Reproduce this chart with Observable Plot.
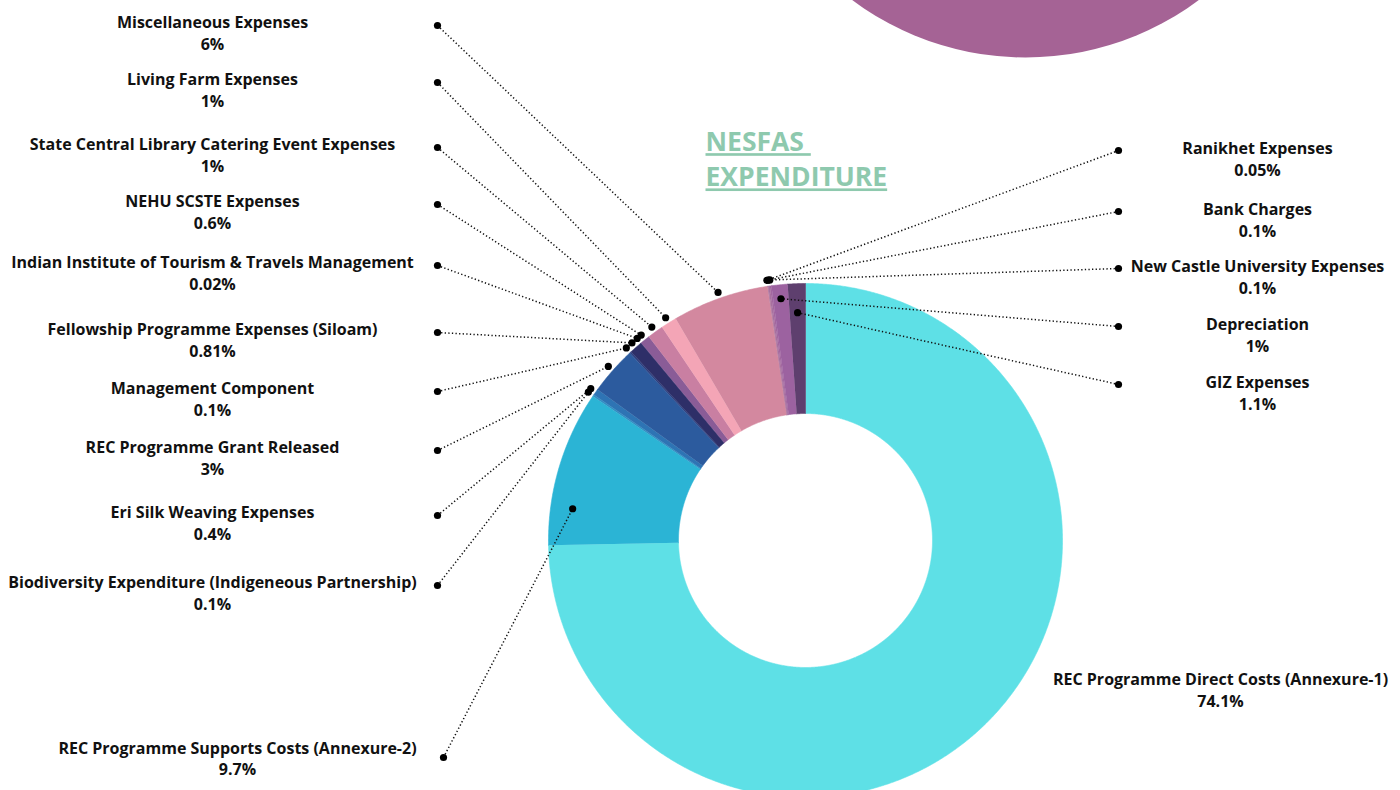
<!DOCTYPE html>
<html>
<head>
<meta charset="utf-8">
<script src="https://cdn.jsdelivr.net/npm/d3@7"></script>
<script src="https://cdn.jsdelivr.net/npm/@observablehq/plot@0.6"></script>
<style>
  html, body { margin: 0; padding: 0; background: #fff; }
  #chart svg { display: block; }
</style>
</head>
<body>
<div id="chart"></div>
<script>
// ---------- DATA (slice order, clockwise from 12 o'clock) ----------
const categories = [
  "REC Programme Direct Costs (Annexure-1)",
  "REC Programme Supports Costs (Annexure-2)",
  "Biodiversity Expenditure (Indigeneous Partnership)",
  "Eri Silk Weaving Expenses",
  "REC Programme Grant Released",
  "Management Component",
  "Fellowship Programme Expenses (Siloam)",
  "Indian Institute of Tourism & Travels Management",
  "NEHU SCSTE Expenses",
  "State Central Library Catering Event Expenses",
  "Living Farm Expenses",
  "Miscellaneous Expenses",
  "Ranikhet Expenses",
  "Bank Charges",
  "New Castle University Expenses",
  "Depreciation",
  "GIZ Expenses"
];
const values = [74.1, 9.7, 0.1, 0.4, 3, 0.1, 0.81, 0.02, 0.6, 1, 1, 6, 0.05, 0.1, 0.1, 1, 1.1];
const sliceColors = [
  "#5ee0e6", "#2bb4d5", "#2f8fc4", "#2e74b4", "#2c5b9e", "#2c3f80",
  "#2e2f68", "#4a3a78", "#8a5c97", "#c97fa2", "#f4a5b6", "#d3889f",
  "#b07aa0", "#a8709f", "#a267a0", "#9c62a0", "#5e3f6e"
];
const titleLines = ["NESFAS\u00a0", "EXPENDITURE"];

// ---------- LAYOUT ----------
const W = 1400, H = 790;
const cx = 805, cy = 540, rOuter = 257, rInner = 127;
const labelSide = ["direct", "support", "left", "left", "left", "left", "left", "left", "left", "left", "left", "left",
                   "right", "right", "right", "right", "right"];
const leftRowsY = [21, 78, 143, 200, 261, 328, 387, 446, 511, 581];   // top to bottom (Misc ... Biodiversity)
const rightRowsY = [147, 208, 265, 323, 381];
const leftDotX = 437, rightDotX = 1118, leftTextX = 212, rightTextX = 1257;
const anchorR = {"GIZ Expenses": 228, "Depreciation": 243, "REC Programme Supports Costs (Annexure-2)": 235};
const anchorFrac = {"REC Programme Supports Costs (Annexure-2)": 0.25};

// ---------- BUILD ----------
const rows = categories.map((name, i) => ({name, value: values[i], pct: `${values[i]}%`}));
const arcs = d3.pie().sort(null).value(d => d.value).startAngle(0).endAngle(2 * Math.PI)(rows);
const pt = (a, r) => ({x: cx + r * Math.sin(a), y: cy - r * Math.cos(a)});

const poly = [];
arcs.forEach(a => {
  const n = Math.max(2, Math.ceil((a.endAngle - a.startAngle) / 0.005));
  for (let k = 0; k <= n; k++) {
    const t = a.startAngle + (a.endAngle - a.startAngle) * k / n;
    poly.push({name: a.data.name, ...pt(t, rOuter)});
  }
  for (let k = n; k >= 0; k--) {
    const t = a.startAngle + (a.endAngle - a.startAngle) * k / n;
    poly.push({name: a.data.name, ...pt(t, rInner)});
  }
});

const links = [], labels = [];
arcs.forEach((a, i) => {
  const d = a.data, side = labelSide[i];
  const frac = anchorFrac[d.name] ?? 0.5;
  const r = anchorR[d.name] ?? 263;
  const p = pt(a.startAngle + (a.endAngle - a.startAngle) * frac, r);
  const text = `${d.name}\n${d.pct}`;
  if (side === "direct") {
    labels.push({x: 1220, y: 678 + 10.8, text});
  } else if (side === "support") {
    labels.push({x: 237, y: 746 + 11, text});
    links.push({x1: 443, y1: 757, x2: p.x, y2: p.y});
  } else if (side === "left") {
    const row = 11 - i;
    const ly = leftRowsY[row];
    labels.push({x: leftTextX, y: ly + 10.8, text});
    links.push({x1: leftDotX, y1: ly + 4, x2: p.x, y2: p.y});
  } else {
    const row = i - 12;
    const ly = rightRowsY[row];
    labels.push({x: rightTextX, y: ly + 10.8, text});
    links.push({x1: rightDotX, y1: ly + 3, x2: p.x, y2: p.y});
  }
});
const dots = links.flatMap(l => [{x: l.x1, y: l.y1}, {x: l.x2, y: l.y2}]);

const chart = Plot.plot({
  width: W, height: H, margin: 0,
  style: {fontFamily: "'Open Sans', sans-serif", background: "#fff"},
  x: {domain: [0, W], range: [0, W], axis: null},
  y: {domain: [0, H], range: [0, H], axis: null},
  color: {type: "ordinal", domain: categories, range: sliceColors},
  marks: [
    Plot.dot([{x: 1025, y: -233}], {x: "x", y: "y", r: 290, fill: "#a56395", stroke: null}),
    Plot.line(poly, {x: "x", y: "y", z: "name", fill: "name", stroke: "name", strokeWidth: 0.6, curve: "linear"}),
    Plot.link(links, {x1: "x1", y1: "y1", x2: "x2", y2: "y2", stroke: "#111", strokeWidth: 1.5, strokeDasharray: "1.3,2.3"}),
    Plot.dot(dots, {x: "x", y: "y", r: 3.6, fill: "#000", stroke: null}),
    Plot.text(labels, {x: "x", y: "y", text: "text", fontSize: 16, fontWeight: 700, lineHeight: 1.36, fill: "#111", lineAnchor: "middle"}),
    Plot.text([{x: 705, y: 157, text: titleLines.join("\n")}], {x: "x", y: "y", text: "text", textAnchor: "start", fontSize: 26.5, fontWeight: 700, lineHeight: 1.33, fill: "#8ec9ae", lineAnchor: "middle"})
  ]
});
document.getElementById("chart").appendChild(chart);
d3.select(chart).selectAll("text").filter(function() { return this.textContent.includes("EXPENDITURE"); })
  .style("text-decoration", "underline");
</script>
</body>
</html>
